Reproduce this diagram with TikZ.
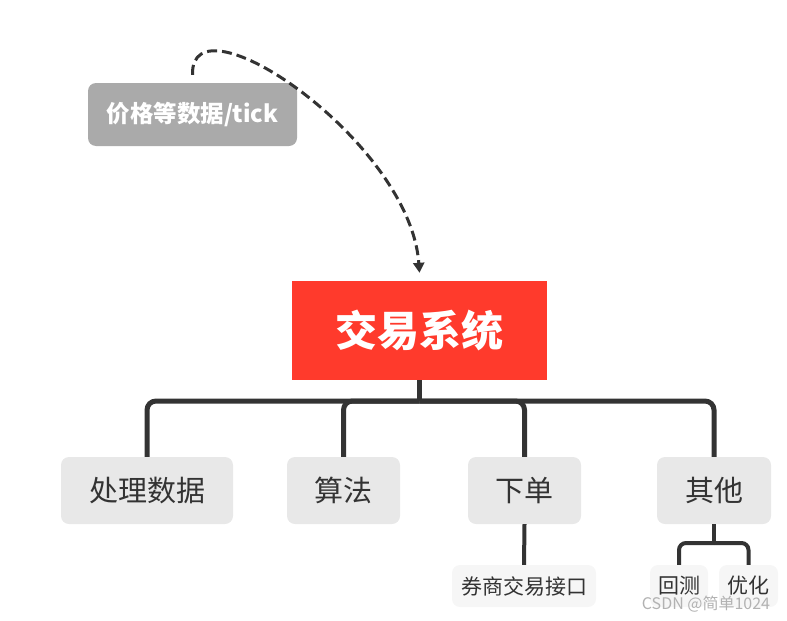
\documentclass[tikz,border=0pt]{standalone}
\usepackage{fontspec}
\newfontfamily\cjk{Noto Sans CJK SC}
\usetikzlibrary{arrows.meta}
\definecolor{sysred}{RGB}{255,58,44}
\definecolor{srcgray}{RGB}{170,170,170}
\definecolor{kidgray}{RGB}{232,232,232}
\definecolor{leafgray}{RGB}{246,246,246}
\definecolor{ink}{RGB}{51,51,51}
\begin{document}
\begin{tikzpicture}[x=1pt,y=-1pt,
    box/.style={rounded corners=8pt,inner sep=0pt,font=\cjk},
    kid/.style={box,fill=kidgray,text=ink,minimum height=67pt,font=\cjk\fontsize{29}{32}\selectfont},
    leaf/.style={box,fill=leafgray,text=ink,minimum height=42pt,font=\cjk\fontsize{21}{24}\selectfont},
    tree/.style={ink,line width=5pt,rounded corners=9pt},
    subtree/.style={ink,line width=4pt,rounded corners=7pt}]
    \useasboundingbox (0,0) rectangle (787,621);
    % \draw[step=50, gray!30, very thin] (0,0) grid (787,621);
    \node[box,fill=srcgray,text=white,minimum width=209pt,minimum height=63pt,
          font=\cjk\bfseries\fontsize{23.5}{27}\selectfont] (src) at (192.5,114.5) {价格等数据/tick};
    \node[fill=sysred,text=white,inner sep=0pt,minimum width=255pt,minimum height=99pt,
          font=\cjk\bfseries\fontsize{42}{46}\selectfont] (sys) at (419.5,330.5) {交易系统};
    \node[kid,minimum width=172pt] (data) at (147,490.5) {处理数据};
    \node[kid,minimum width=113pt] (algo) at (343.5,490.5) {算法};
    \node[kid,minimum width=113pt] (order) at (524.5,490.5) {下单};
    \node[kid,minimum width=114pt] (other) at (714,490.5) {其他};
    \node[leaf,minimum width=144pt] (broker) at (524,586) {券商交易接口};
    \node[leaf,minimum width=58pt] (back) at (679,586) {回测};
    \node[leaf,minimum width=59pt] (opt) at (748.5,586) {优化};
    % data feed
    \draw[ink,line width=3pt,dash pattern=on 10pt off 5pt,-{Triangle[length=10pt,width=11pt]}]
        ([yshift=8pt]src.north) .. controls (190,-8) and (410,140) .. ([yshift=8pt]sys.north);
    % main tree
    \coordinate (bus) at (419.5,401);
    \draw[tree] (sys.south) -- (bus);
    \draw[tree] (bus) -| (data.north);
    \draw[tree] (bus) -| (algo.north);
    \draw[tree] (bus) -| (order.north);
    \draw[tree] (bus) -| (other.north);
    \draw[subtree] (order.south) -- (broker.north);
    \coordinate (subbus) at (714,543);
    \draw[subtree] (other.south) -- (subbus);
    \draw[subtree] (subbus) -| (back.north);
    \draw[subtree] (subbus) -| (opt.north);
    \node[text=gray!60,font=\cjk\fontsize{16}{18}\selectfont] (mark) at (706,604) {CSDN @简单1024};
\end{tikzpicture}
\end{document}
